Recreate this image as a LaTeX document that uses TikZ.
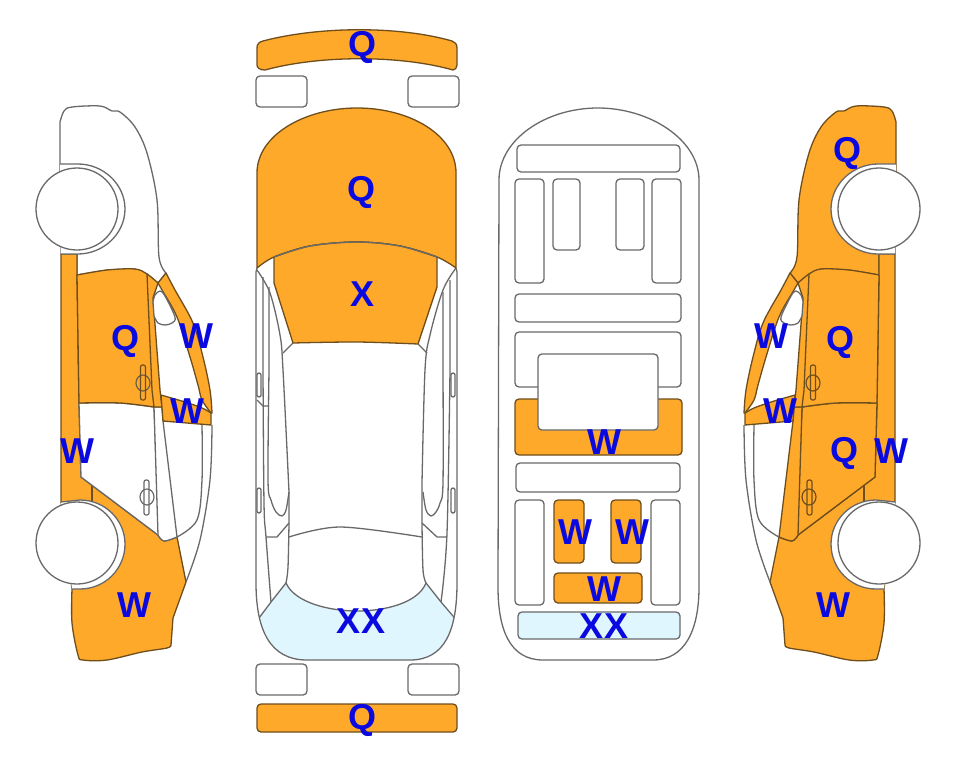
\documentclass[tikz,border=0pt]{standalone}
\usepackage{fontspec}
\setmainfont{Liberation Sans}
\definecolor{org}{HTML}{FFA92B}
\definecolor{ice}{HTML}{E0F6FF}
\definecolor{edgeW}{HTML}{696969}
\definecolor{edgeO}{HTML}{6E4E1C}
\definecolor{lab}{HTML}{0A0AE0}
\tikzset{
 sm/.style={smooth,tension=0.55},
 wl/.style={draw=edgeW,line width=1.3pt,line join=round},
 ol/.style={draw=edgeO,line width=1.3pt,line join=round},
 box/.style={wl,fill=white,rounded corners=4pt},
 obox/.style={ol,fill=org,rounded corners=4pt},
 ibox/.style={wl,fill=ice,rounded corners=4pt},
 lbl/.style={text=lab,font=\fontsize{36}{36}\selectfont\bfseries,inner sep=0pt,text height=25pt,text depth=0pt,xshift=1pt,yshift=1pt}
}
% #1 hood fill, #2 hood edge, #3 rear-door fill, #4 rear-door edge
\newcommand{\carside}[4]{%
 \path[fill=#1,draw=#2,line width=1.3pt,line join=round] (60,165) -- plot[sm] coordinates {(60,122) (64,111) (72,107) (100,106) (112,111) (120,112) (135,127) (147,153) (157,200) (159,257) (166,273)}
   -- (158,283) -- (147,274) -- (135,269) -- (107,270) -- (77,275) -- (77,254) -- (61,254) -- cycle;
 % strip and rear panel
 \path[fill=org,ol] (61,254) -- (61,502) -- (72,589) -- plot[sm] coordinates {(72,589) (72,623) (78,655) (83,660) (107,660) (142,652) (167,648) (171,645)}
   -- (173,618) -- (186,582) -- (177,537) -- plot[sm] coordinates {(177,537) (164,541) (158,535)} -- (81,477) -- (79,403) -- (77,275) -- (77,254) -- cycle;
 \draw[ol] (92,485) -- (92,501);
 % rear door and pillar strip
 \path[fill=#3,draw=#4,line width=1.3pt,line join=round] (79,403) -- plot[sm] coordinates {(79,403) (120,403) (154,407)} -- (159,537) -- (158,535) -- (81,477) -- cycle;
 \path[fill=#3,draw=#4,line width=1.3pt,line join=round] (154,407) -- (162,407) -- (163,421) -- (177,537) -- plot[sm] coordinates {(177,537) (164,541) (158,535)} -- cycle;
 % front door
 \path[fill=org,ol] (79,403) -- (77,275) -- plot[sm] coordinates {(77,275) (107,270) (135,269) (147,274) (158,283)} -- (153,298) -- (160,390) -- (162,407) -- plot[sm] coordinates {(154,407) (120,403) (79,403)} -- cycle;
 \draw[ol] (147,274) -- (152,390) -- (154,407);
 % rear side glass outline
 \draw[wl] (202,425) -- plot[sm] coordinates {(202,425) (202,480) (197,520) (177,537)};
 \draw[wl] plot[sm] coordinates {(212,425) (210,480) (200,540) (186,582)};
 % lower triangle
 \path[fill=org,ol] (161,395) -- plot[sm] coordinates {(161,395) (185,402) (202,408) (211,413)} -- (211,425) -- (163,421) -- cycle;
 % pillar frame
 \path[fill=org,ol] plot[sm] coordinates {(166,273) (175,290) (193,323) (203,357) (210,390) (212,413)} -- plot[sm] coordinates {(211,413) (202,400) (198,385) (190,357) (177,317) (162,290) (158,283)} -- cycle;
 % quarter window
 \path[fill=white,wl] plot[sm] coordinates {(153,302) (155,295) (160,291) (165,296) (175,317) (172,323) (165,325) (158,323) (154,316)} -- cycle;
 % handles
 \draw[draw=#2!60!edgeO,line width=1.2pt] (143,383) ellipse [x radius=7,y radius=8];
 \draw[edgeO,line width=1.2pt,rounded corners=2pt] (140.5,365) rectangle (145.5,400);
 \draw[#4,line width=1.2pt] (147,497) ellipse [x radius=7,y radius=8];
 \draw[#4,line width=1.2pt,rounded corners=2pt] (144,480) rectangle (149,515);
 % arches and wheels
 \fill[white] (60,164) -- (78,164) .. controls (103,164) and (125,184) .. (125,209) .. controls (125,234) and (103,254) .. (78,254) -- (61,254) -- cycle;
 \draw[wl] (60,164) -- (78,164) .. controls (103,164) and (125,184) .. (125,209) .. controls (125,234) and (103,254) .. (78,254) -- (61,254);
 \fill[white] (61,502) -- (80,500) .. controls (105,500) and (125,520) .. (125,544) .. controls (125,569) and (105,589) .. (80,589) -- (72,589) -- cycle;
 \draw[wl] (61,502) -- (80,500) .. controls (105,500) and (125,520) .. (125,544) .. controls (125,569) and (105,589) .. (80,589) -- (72,589);
 \draw[wl,fill=white] (77,209) circle [radius=41];
 \draw[wl,fill=white] (77,543) circle [radius=41];
}
\begin{document}
\begin{tikzpicture}[x=1pt,y=-1pt]
\useasboundingbox (0,0) rectangle (963,768);
\fill[white] (0,0) rectangle (963,768);

% left side view
\carside{white}{edgeW}{white}{edgeW}
% right side view
\begin{scope}[xshift=956pt,xscale=-1]
\carside{org}{edgeO}{org}{edgeO}
\end{scope}

% top view: bumpers and lamps
\path[fill=org,ol] (257,48) .. controls (257,44) and (259,42) .. (263,41) .. controls (320,26) and (400,26) .. (452,41) .. controls (455,42) and (457,44) .. (457,48) -- (457,65) .. controls (457,68) and (455,70) .. (453,70) .. controls (400,55) and (320,55) .. (265,70) .. controls (260,70) and (257,68) .. (257,65) -- cycle;
\draw[box] (256,76) rectangle (307,107);
\draw[box] (408,76) rectangle (459,107);
\draw[box] (256,664) rectangle (307,695);
\draw[box] (408,664) rectangle (459,695);
\draw[obox] (257,704) rectangle (457,732);

% top view: body outline
\fill[white] (257,266) -- (256,272) -- (256,583) .. controls (256,630) and (270,660) .. (307,660) -- (410,660) .. controls (445,660) and (457,630) .. (457,583) -- (457,272) -- (456,266) -- cycle;
% rear glass, clipped to the outline
\begin{scope}
\clip (256,272) -- (256,583) .. controls (256,630) and (270,660) .. (307,660) -- (410,660) .. controls (445,660) and (457,630) .. (457,583) -- (457,272) -- cycle;
\path[fill=ice,wl] (250,630) -- (250,670) -- (465,670) -- (465,630) -- (441,602) -- (426,583) .. controls (418,603) and (385,611) .. (357,611) .. controls (330,611) and (295,603) .. (286,583) -- (271,602) -- cycle;
\end{scope}
\draw[wl] (257,268) -- (256,272) -- (256,583) .. controls (256,630) and (270,660) .. (307,660) -- (410,660) .. controls (445,660) and (457,630) .. (457,583) -- (457,272) -- (456,268);
% side lines
\draw[wl] (263,277) -- plot[sm] coordinates {(263,370) (264,503) (266,537) (271,602)};
\draw[wl] (450,280) -- plot[sm] coordinates {(450,370) (447,533) (441,602)};
\draw[wl] (269,287) -- plot[sm] coordinates {(269,370) (268,480) (271,500) (276,512) (282,516) (286,510) (289,492)};
\draw[wl] (443,292) -- plot[sm] coordinates {(443,370) (443,483) (440,503) (436,512) (431,516) (426,510) (423,492)};
\draw[wl] plot[sm] coordinates {(257,270) (270,293) (280,335) (283,370) (289,492)} -- (289,523) -- plot[sm] coordinates {(289,523) (288,567) (286,583)};
\draw[wl] plot[sm] coordinates {(456,268) (443,290) (430,335) (425,370) (422,483)} -- (422,523) -- plot[sm] coordinates {(422,523) (423,570) (426,583)};
\draw[wl] (283,353) -- (293,343);
\draw[wl] (427,353) -- (418,344);
\draw[wl] plot[sm] coordinates {(289,537) (340,527) (422,537)};
\draw[wl] (289,523) -- (277,537) -- (266,537);
\draw[wl] (422,523) -- (437,537) -- (447,537);
\draw[wl] (257,400) -- (263,406) -- (269,406);
\draw[wl,rounded corners=2pt] (257,373) rectangle (261,397);
\draw[wl,rounded corners=2pt] (257,488) rectangle (261,513);
\draw[wl,rounded corners=2pt] (451,373) rectangle (455,397);
\draw[wl,rounded corners=2pt] (451,488) rectangle (455,513);
% bonnet
\path[fill=org,ol] (257,268) -- (257,173) .. controls (257,135) and (305,108) .. (357,108) .. controls (410,108) and (456,135) .. (456,173) -- (456,268) -- plot[sm] coordinates {(456,268) (437,257) (400,246) (357,242) (310,246) (274,257) (257,268)} -- cycle;
% windscreen
\path[fill=org,ol] plot[sm] coordinates {(274,257) (310,246) (357,242) (400,246) (437,257)} -- (437,287) -- (418,344) -- plot[sm] coordinates {(418,344) (357,342) (293,343)} -- (274,283) -- cycle;
\draw[wl] plot[sm] coordinates {(274,257) (310,246) (357,242) (400,246) (437,257)};

% under view
\path[fill=white,wl] (499,180) .. controls (499,140) and (545,108) .. (598,108) .. controls (650,108) and (699,140) .. (699,180) -- (699,587) .. controls (699,630) and (685,660) .. (653,660) -- (543,660) .. controls (510,660) and (498,630) .. (498,587) -- cycle;
\draw[box] (517,145) rectangle (680,172);
\draw[box] (515,179) rectangle (544,283);
\draw[box] (553,179) rectangle (580,250);
\draw[box] (616,179) rectangle (644,250);
\draw[box] (652,179) rectangle (681,283);
\draw[box] (515,294) rectangle (681,322);
\draw[box] (515,332) rectangle (681,387);
\draw[obox] (515,399) rectangle (682,455);
\draw[box] (538,354) rectangle (658,430);
\draw[box] (516,463) rectangle (680,492);
\draw[box] (515,500) rectangle (544,605);
\draw[obox] (554,500) rectangle (584,563);
\draw[obox] (611,500) rectangle (641,563);
\draw[box] (651,500) rectangle (680,605);
\draw[obox] (554,573) rectangle (642,603);
\draw[ibox] (518,612) rectangle (680,639);

% labels
\node[lbl] (q1) at (361,45) {Q};
\node[lbl] (q2) at (360,190) {Q};
\node[lbl] (x1) at (362,295) {X};
\node[lbl] (xx1) at (360,622) {XX};
\node[lbl] (q3) at (361,718) {Q};
\node[lbl] (q4) at (124,339) {Q};
\node[lbl] (w1) at (195,337) {W};
\node[lbl] (w2) at (186,412) {W};
\node[lbl] (w3) at (76,452) {W};
\node[lbl] (w4) at (133,606) {W};
\node[lbl] (w5) at (603,443) {W};
\node[lbl] (w6) at (574,533) {W};
\node[lbl] (w7) at (631,533) {W};
\node[lbl] (w8) at (603,590) {W};
\node[lbl] (xx2) at (603,627) {XX};
\node[lbl] (q5) at (846,151) {Q};
\node[lbl] (q6) at (839,340) {Q};
\node[lbl] (w9) at (770,337) {W};
\node[lbl] (w10) at (779,412) {W};
\node[lbl] (q7) at (843,451) {Q};
\node[lbl] (w11) at (890,452) {W};
\node[lbl] (w12) at (832,606) {W};
\end{tikzpicture}
\end{document}
